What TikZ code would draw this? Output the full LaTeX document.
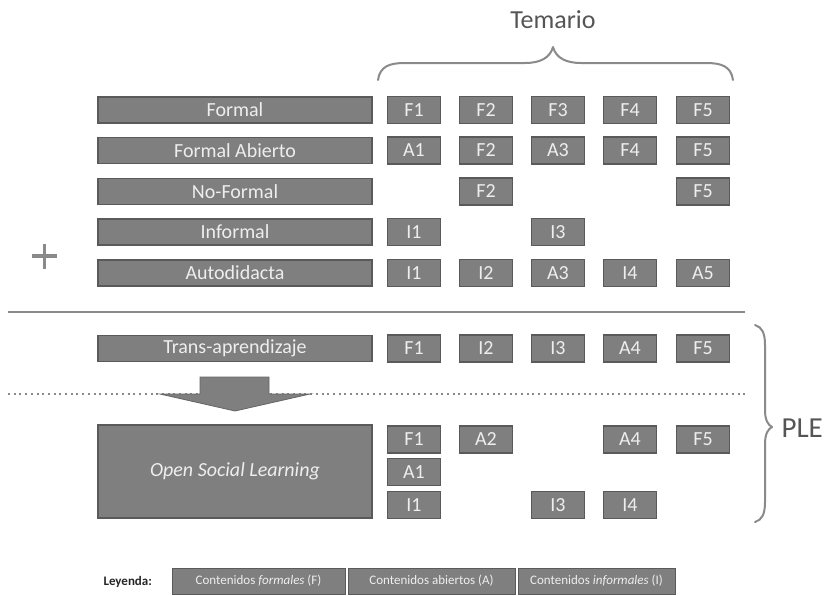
\documentclass[tikz,border=0pt]{standalone}
\usepackage{fontspec}
\setmainfont{Carlito}
\definecolor{boxfill}{HTML}{7F7F7F}
\definecolor{boxborder}{HTML}{5A5A5A}
\definecolor{boxtext}{HTML}{EEEEEE}
\definecolor{linegray}{HTML}{8A8A8A}
\definecolor{labelgray}{HTML}{555555}
\begin{document}
\begin{tikzpicture}[x=1pt,y=-1pt,
  lbl/.style={draw=boxborder, fill=boxfill, line width=1.2pt, minimum width=274pt, minimum height=26pt, text=boxtext, font=\fontsize{20}{22}\selectfont, inner sep=0pt},
  cell/.style={draw=boxborder, fill=boxfill, line width=1.2pt, minimum width=53pt, minimum height=27pt, text=boxtext, font=\fontsize{20}{22}\selectfont, inner sep=0pt},
  leg/.style={draw=boxborder, fill=boxfill, line width=1pt, minimum height=26pt, text=boxtext, font=\fontsize{13}{15}\selectfont, inner sep=0pt},
  sep/.style={draw=linegray, line width=2pt},
  bracestyle/.style={draw=linegray, line width=2pt, line cap=round, line join=round},
  big/.style={text=labelgray, font=\fontsize{26}{30}\selectfont}]
\useasboundingbox (0,0) rectangle (830,595);
% header
\node[big] (temario) at (553,20) {Temario};
\coordinate (tbL) at (378,80);
\coordinate (tbM) at (553,47);
\coordinate (tbR) at (733,80);
\draw[bracestyle] (tbL) .. controls (380,66) and (390,63) .. (405,63) -- (525,63) .. controls (540,63) and (550,58) .. (tbM)
  .. controls (556,58) and (566,63) .. (581,63) -- (706,63) .. controls (721,63) and (731,66) .. (tbR);
% row labels
\node[lbl] (formal) at (235,110) {Formal};
\node[lbl] (abierto) at (235,150.5) {Formal Abierto};
\node[lbl] (noformal) at (235,191.5) {No-Formal};
\node[lbl] (informal) at (235,232) {Informal};
\node[lbl] (auto) at (235,273) {Autodidacta};
\node[lbl] (trans) at (235,348.5) {Trans-aprendizaje};
% cells
\node[cell] (f1) at (414,110) {F1};
\node[cell] (f2) at (486,110) {F2};
\node[cell] (f3) at (558,110) {F3};
\node[cell] (f4) at (630,110) {F4};
\node[cell] (f5) at (703,110) {F5};
\node[cell] (a1) at (414,150.5) {A1};
\node[cell] (a2) at (486,150.5) {F2};
\node[cell] (a3) at (558,150.5) {A3};
\node[cell] (a4) at (630,150.5) {F4};
\node[cell] (a5) at (703,150.5) {F5};
\node[cell] (n2) at (486,191.5) {F2};
\node[cell] (n5) at (703,191.5) {F5};
\node[cell] (i1) at (414,232) {I1};
\node[cell] (i3) at (558,232) {I3};
\node[cell] (d1) at (414,273) {I1};
\node[cell] (d2) at (486,273) {I2};
\node[cell] (d3) at (558,273) {A3};
\node[cell] (d4) at (630,273) {I4};
\node[cell] (d5) at (703,273) {A5};
\node[cell] (t1) at (414,348.5) {F1};
\node[cell] (t2) at (486,348.5) {I2};
\node[cell] (t3) at (558,348.5) {I3};
\node[cell] (t4) at (630,348.5) {A4};
\node[cell] (t5) at (703,348.5) {F5};
% plus
\coordinate (plus) at (44,256);
\draw[draw=linegray, line width=3.2pt] (32,256) -- (57,256) (44.5,243.5) -- (44.5,268.5);
% separators
\coordinate (s1L) at (8,312);
\coordinate (s1R) at (745,312);
\draw[sep] (s1L) -- (s1R);
\coordinate (s2L) at (8,394);
\coordinate (s2R) at (748,394);
\draw[draw=linegray, line width=2pt, dash pattern=on 2pt off 3.7pt] (s2L) -- (s2R);
% arrow
\fill[boxfill, draw=boxborder!70!boxfill, line width=0.8pt] (200,377) -- (269,377) -- (269,394) -- (310,394) -- (235,411) -- (160,394) -- (200,394) -- cycle;
% open social learning
\node[lbl, minimum height=93pt, font=\itshape\fontsize{20}{22}\selectfont] (osl) at (235,471.5) {Open Social Learning};
\node[cell] (o1) at (414,439.5) {F1};
\node[cell] (o2) at (486,439.5) {A2};
\node[cell] (o4) at (630,439.5) {A4};
\node[cell] (o5) at (703,439.5) {F5};
\node[cell] (o6) at (414,472) {A1};
\node[cell] (o7) at (414,505) {I1};
\node[cell] (o8) at (558,505) {I3};
\node[cell] (o9) at (630,505) {I4};
% PLE brace
\coordinate (pbT) at (755,325);
\coordinate (pbM) at (772,427);
\coordinate (pbB) at (755,522);
\draw[bracestyle] (pbT) .. controls (762,327) and (765,333) .. (765,345) -- (765,410) .. controls (765,420) and (768,425) .. (pbM)
  .. controls (768,429) and (765,434) .. (765,444) -- (765,502) .. controls (765,514) and (762,520) .. (pbB);
\node[big, anchor=west, font=\fontsize{29}{32}\selectfont] (ple) at (778,428) {PLE};
% legend
\node[font=\bfseries\fontsize{13}{15}\selectfont, text=black!85, anchor=west] (leyenda) at (100,582) {Leyenda:};
\node[leg, minimum width=173pt] (lf) at (258.5,581) {Contenidos \textit{formales} (F)};
\node[leg, minimum width=167pt] (la) at (431.5,581) {Contenidos abiertos (A)};
\node[leg, minimum width=157pt] (li) at (596.5,581) {Contenidos \textit{informales} (I)};
\end{tikzpicture}
\end{document}
